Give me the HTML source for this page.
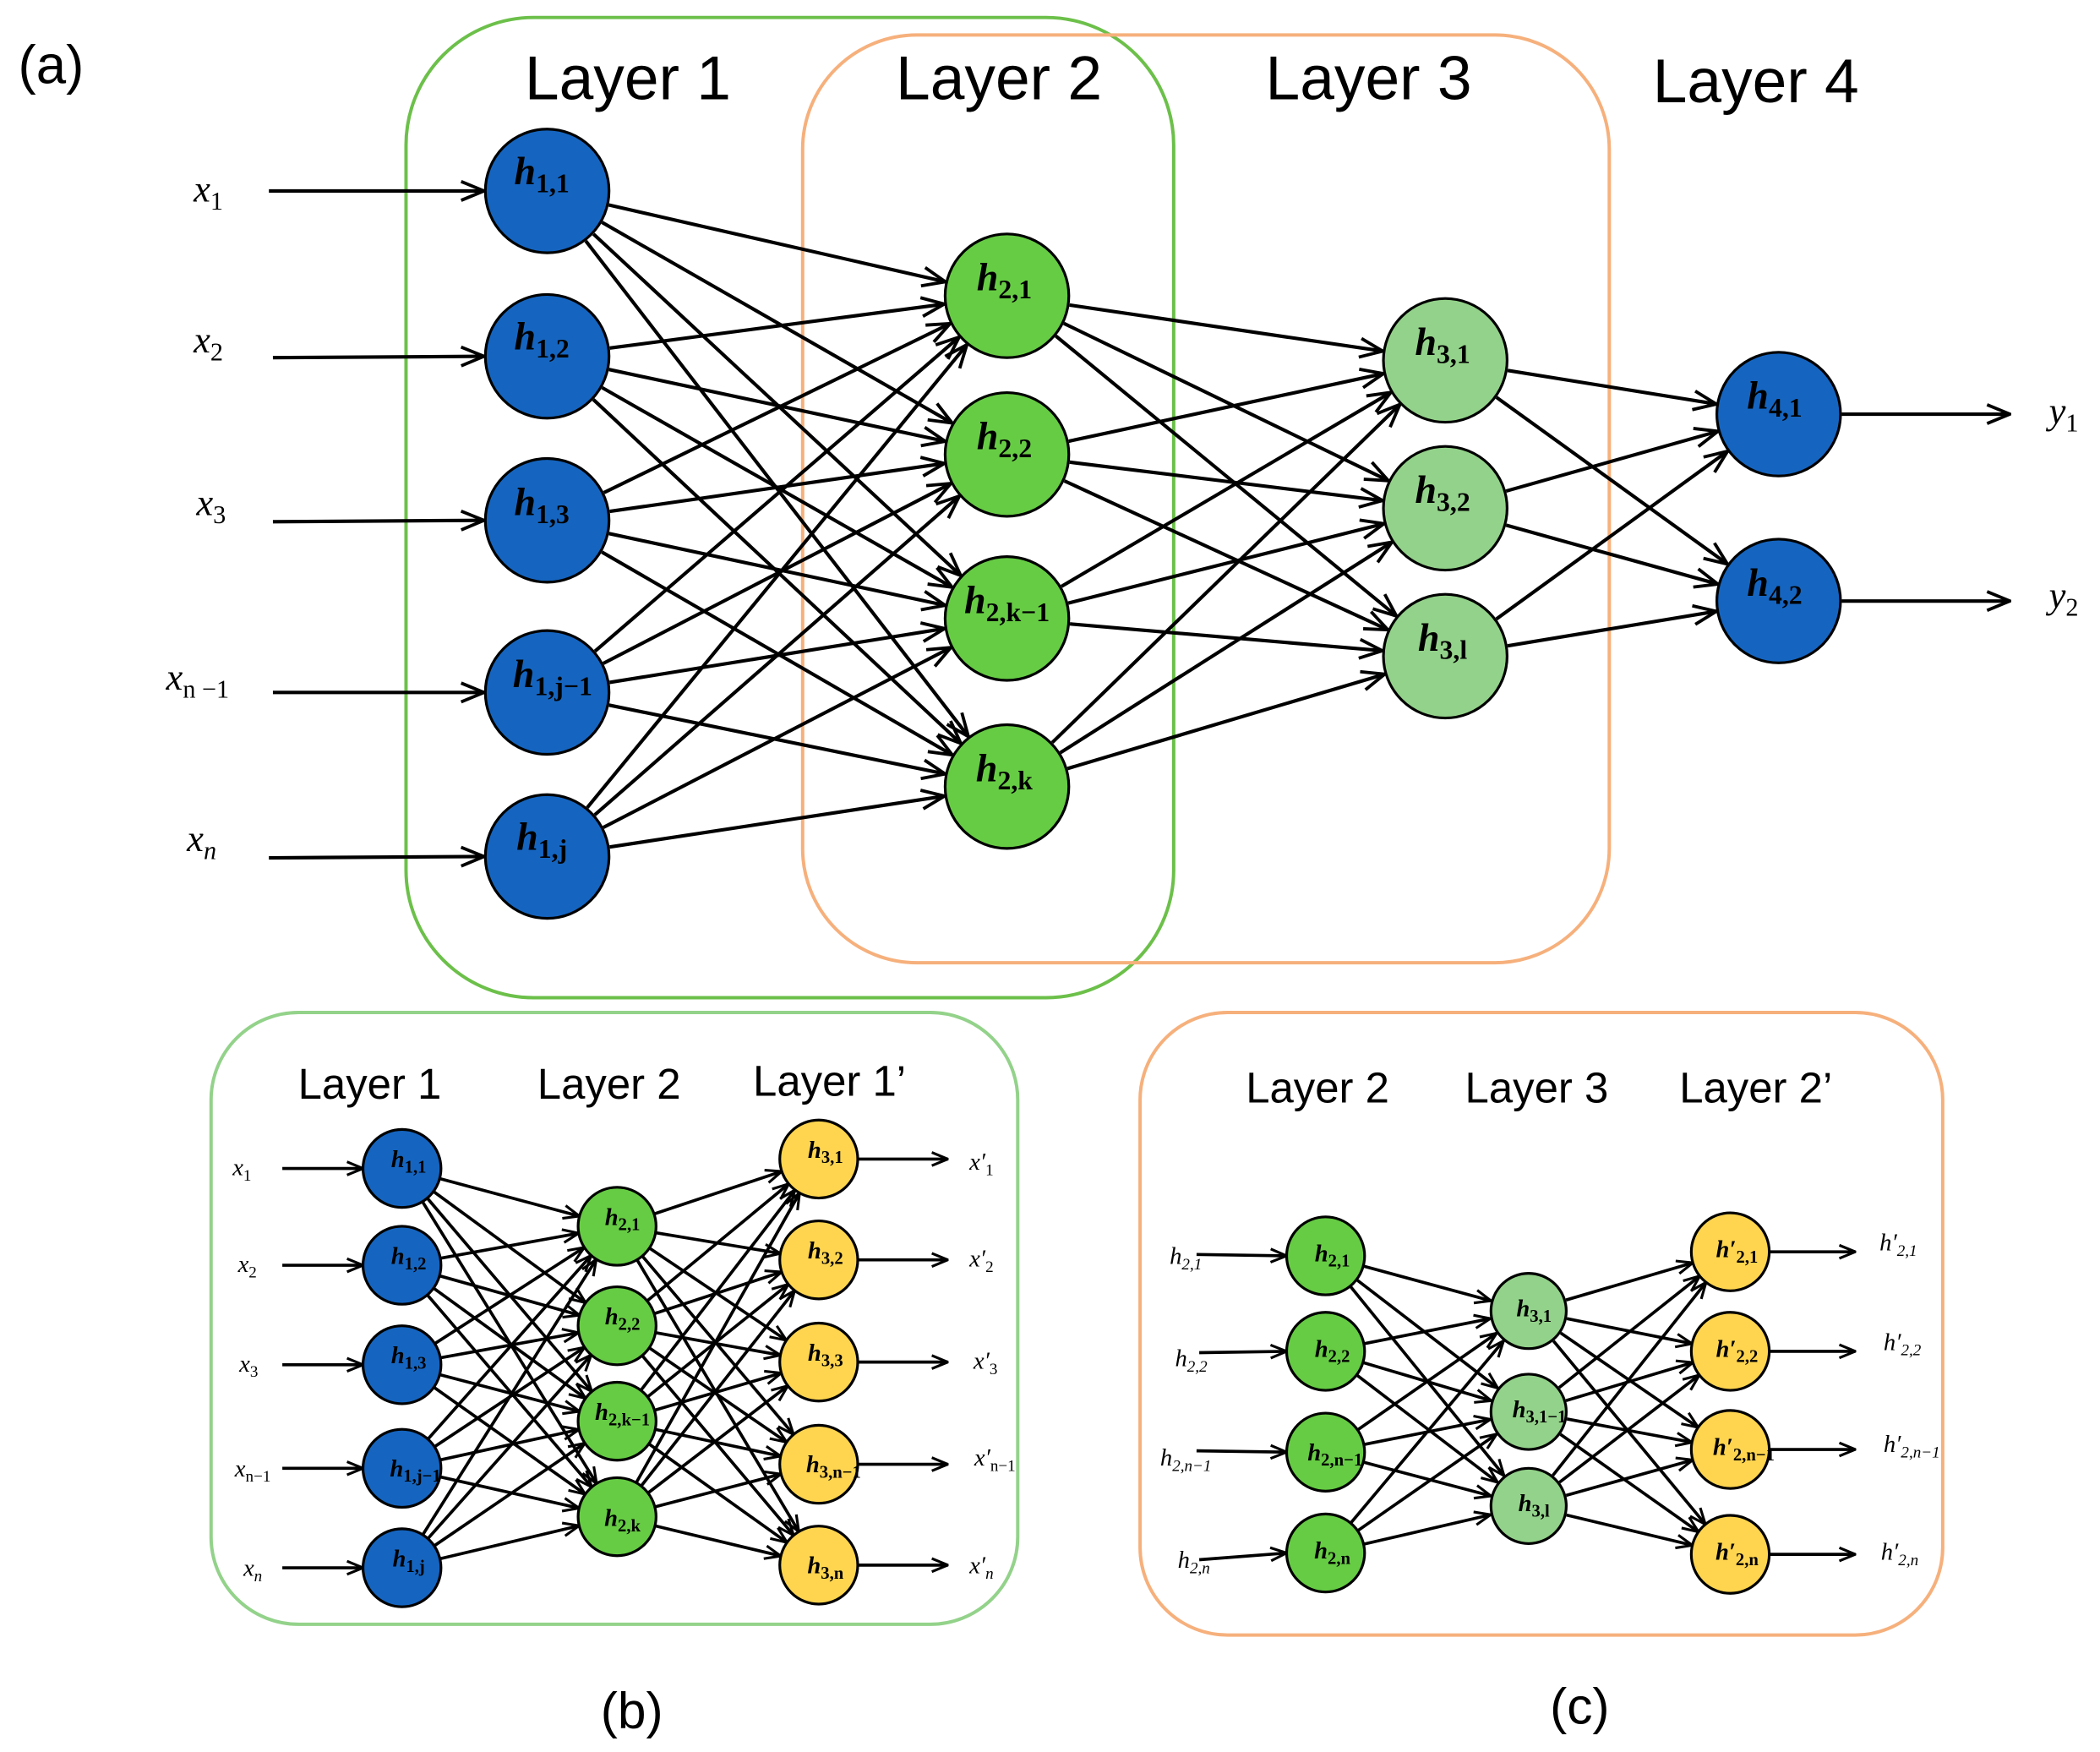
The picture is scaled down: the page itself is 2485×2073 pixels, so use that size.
<!DOCTYPE html>
<html><head><meta charset="utf-8">
<style>
html,body{margin:0;padding:0;background:#fff;}
svg{display:block;}
.lay{font-family:"Liberation Sans",sans-serif;fill:#000;text-anchor:middle;}
.m{font-family:"Liberation Serif","DejaVu Serif",serif;font-style:italic;font-weight:bold;fill:#000;text-anchor:middle;}
.m tspan{font-style:normal;font-weight:600;}
.x{font-family:"Liberation Serif","DejaVu Serif",serif;font-style:italic;fill:#000;text-anchor:middle;}
</style></head>
<body>
<svg id="s" width="2485" height="2073" viewBox="0 0 1562 1303" preserveAspectRatio="none" xmlns="http://www.w3.org/2000/svg">
<defs>
<marker id="ar" viewBox="0 0 20 20" refX="19" refY="10" markerWidth="20" markerHeight="20" markerUnits="userSpaceOnUse" orient="auto">
<polyline points="2,3 19,10 2,17" fill="none" stroke="#000" stroke-width="2.4"/>
</marker>
<marker id="ars" viewBox="0 0 20 20" refX="19" refY="10" markerWidth="14" markerHeight="14" markerUnits="userSpaceOnUse" orient="auto">
<polyline points="2,3 19,10 2,17" fill="none" stroke="#000" stroke-width="2.8"/>
</marker>
</defs>
<rect x="302" y="13" width="571" height="729" rx="95" fill="none" stroke="#6cc04a" stroke-width="2.5"/>
<rect x="597" y="26" width="600" height="690" rx="85" fill="none" stroke="#f6b07c" stroke-width="2.5"/>
<rect x="157" y="753" width="600" height="455" rx="65" fill="none" stroke="#93d28a" stroke-width="2.5"/>
<rect x="848" y="753" width="597" height="463" rx="65" fill="none" stroke="#f6b07c" stroke-width="2.5"/>
<g id="edges"></g>
<g id="nodes"></g>
<text x="38" y="62" class="lay" font-size="40">(a)</text>
<text x="467" y="74" class="lay" font-size="46">Layer 1</text>
<text x="743" y="74" class="lay" font-size="46">Layer 2</text>
<text x="1018" y="74" class="lay" font-size="46">Layer 3</text>
<text x="1306" y="76" class="lay" font-size="46">Layer 4</text>
<text x="275" y="817" class="lay" font-size="32">Layer 1</text>
<text x="453" y="817" class="lay" font-size="32">Layer 2</text>
<text x="617" y="815" class="lay" font-size="32">Layer 1’</text>
<text x="980" y="820" class="lay" font-size="32">Layer 2</text>
<text x="1143" y="820" class="lay" font-size="32">Layer 3</text>
<text x="1306" y="820" class="lay" font-size="32">Layer 2’</text>
<text x="470" y="1285" class="lay" font-size="38">(b)</text>
<text x="1175" y="1282" class="lay" font-size="38">(c)</text>
<g class="x" font-size="28">
<text x="155" y="150">x<tspan font-size="19" dy="6" font-style="normal">1</tspan></text>
<text x="155" y="262">x<tspan font-size="19" dy="6" font-style="normal">2</tspan></text>
<text x="157" y="383">x<tspan font-size="19" dy="6" font-style="normal">3</tspan></text>
<text x="147" y="513">x<tspan font-size="19" dy="6" font-style="normal">n −1</tspan></text>
<text x="150" y="633">x<tspan font-size="19" dy="6">n</tspan></text>
<text x="1535" y="315">y<tspan font-size="19" dy="6" font-style="normal">1</tspan></text>
<text x="1535" y="452">y<tspan font-size="19" dy="6" font-style="normal">2</tspan></text>
</g>
<g class="m" font-size="29">
<text x="403" y="137">h<tspan font-size="20" dy="6">1,1</tspan></text>
<text x="403" y="260">h<tspan font-size="20" dy="6">1,2</tspan></text>
<text x="403" y="383">h<tspan font-size="20" dy="6">1,3</tspan></text>
<text x="411" y="511">h<tspan font-size="20" dy="6">1,j−1</tspan></text>
<text x="403" y="632">h<tspan font-size="20" dy="6">1,j</tspan></text>
<text x="747" y="216">h<tspan font-size="20" dy="6">2,1</tspan></text>
<text x="747" y="334">h<tspan font-size="20" dy="6">2,2</tspan></text>
<text x="749" y="456">h<tspan font-size="20" dy="6">2,k−1</tspan></text>
<text x="747" y="581">h<tspan font-size="20" dy="6">2,k</tspan></text>
<text x="1073" y="264">h<tspan font-size="20" dy="6">3,1</tspan></text>
<text x="1073" y="374">h<tspan font-size="20" dy="6">3,2</tspan></text>
<text x="1073" y="484">h<tspan font-size="20" dy="6">3,l</tspan></text>
<text x="1320" y="304">h<tspan font-size="20" dy="6">4,1</tspan></text>
<text x="1320" y="443">h<tspan font-size="20" dy="6">4,2</tspan></text>
</g>
<g class="x" font-size="18">
<text x="180" y="874">x<tspan font-size="12" dy="4" font-style="normal">1</tspan></text>
<text x="184" y="946">x<tspan font-size="12" dy="4" font-style="normal">2</tspan></text>
<text x="185" y="1020">x<tspan font-size="12" dy="4" font-style="normal">3</tspan></text>
<text x="188" y="1098">x<tspan font-size="12" dy="4" font-style="normal">n−1</tspan></text>
<text x="188" y="1172">x<tspan font-size="12" dy="4">n</tspan></text>
<text x="730" y="870">x′<tspan font-size="12" dy="4" font-style="normal">1</tspan></text>
<text x="730" y="942">x′<tspan font-size="12" dy="4" font-style="normal">2</tspan></text>
<text x="733" y="1018">x′<tspan font-size="12" dy="4" font-style="normal">3</tspan></text>
<text x="740" y="1090">x′<tspan font-size="12" dy="4" font-style="normal">n−1</tspan></text>
<text x="730" y="1170">x′<tspan font-size="12" dy="4">n</tspan></text>
</g>
<g class="m" font-size="18">
<text x="304" y="868">h<tspan font-size="13" dy="4">1,1</tspan></text>
<text x="304" y="940">h<tspan font-size="13" dy="4">1,2</tspan></text>
<text x="304" y="1014">h<tspan font-size="13" dy="4">1,3</tspan></text>
<text x="309" y="1098">h<tspan font-size="13" dy="4">1,j−1</tspan></text>
<text x="304" y="1165">h<tspan font-size="13" dy="4">1,j</tspan></text>
<text x="463" y="911">h<tspan font-size="13" dy="4">2,1</tspan></text>
<text x="463" y="985">h<tspan font-size="13" dy="4">2,2</tspan></text>
<text x="463" y="1056">h<tspan font-size="13" dy="4">2,k−1</tspan></text>
<text x="463" y="1135">h<tspan font-size="13" dy="4">2,k</tspan></text>
<text x="614" y="861">h<tspan font-size="13" dy="4">3,1</tspan></text>
<text x="614" y="936">h<tspan font-size="13" dy="4">3,2</tspan></text>
<text x="614" y="1012">h<tspan font-size="13" dy="4">3,3</tspan></text>
<text x="620" y="1095">h<tspan font-size="13" dy="4">3,n−1</tspan></text>
<text x="614" y="1170">h<tspan font-size="13" dy="4">3,n</tspan></text>
</g>
<g class="x" font-size="18">
<text x="882" y="940">h<tspan font-size="12" dy="4">2,1</tspan></text>
<text x="886" y="1016">h<tspan font-size="12" dy="4">2,2</tspan></text>
<text x="882" y="1090">h<tspan font-size="12" dy="4">2,n−1</tspan></text>
<text x="888" y="1166">h<tspan font-size="12" dy="4">2,n</tspan></text>
<text x="1412" y="930">h′<tspan font-size="12" dy="4">2,1</tspan></text>
<text x="1415" y="1004">h′<tspan font-size="12" dy="4">2,2</tspan></text>
<text x="1422" y="1080">h′<tspan font-size="12" dy="4">2,n−1</tspan></text>
<text x="1413" y="1160">h′<tspan font-size="12" dy="4">2,n</tspan></text>
</g>
<g class="m" font-size="18">
<text x="991" y="938">h<tspan font-size="13" dy="4">2,1</tspan></text>
<text x="991" y="1009">h<tspan font-size="13" dy="4">2,2</tspan></text>
<text x="993" y="1086">h<tspan font-size="13" dy="4">2,n−1</tspan></text>
<text x="991" y="1159">h<tspan font-size="13" dy="4">2,n</tspan></text>
<text x="1141" y="979">h<tspan font-size="13" dy="4">3,1</tspan></text>
<text x="1145" y="1054">h<tspan font-size="13" dy="4">3,1−1</tspan></text>
<text x="1141" y="1124">h<tspan font-size="13" dy="4">3,l</tspan></text>
<text x="1292" y="935">h′<tspan font-size="13" dy="4">2,1</tspan></text>
<text x="1292" y="1009">h′<tspan font-size="13" dy="4">2,2</tspan></text>
<text x="1297" y="1082">h′<tspan font-size="13" dy="4">2,n−1</tspan></text>
<text x="1292" y="1160">h′<tspan font-size="13" dy="4">2,n</tspan></text>
</g>
<script>
(function(){
var NS="http://www.w3.org/2000/svg",E=document.getElementById("edges"),N=document.getElementById("nodes");
function line(x1,y1,x2,y2,m,w){var l=document.createElementNS(NS,"line");l.setAttribute("x1",x1);l.setAttribute("y1",y1);l.setAttribute("x2",x2);l.setAttribute("y2",y2);l.setAttribute("stroke","#000");l.setAttribute("stroke-width",w);l.setAttribute("marker-end","url(#"+m+")");E.appendChild(l);}
function circ(x,y,r,f){var c=document.createElementNS(NS,"circle");c.setAttribute("cx",x);c.setAttribute("cy",y);c.setAttribute("r",r);c.setAttribute("fill",f);c.setAttribute("stroke","#000");c.setAttribute("stroke-width","2");N.appendChild(c);}
function conn(A,B,r,m,w){A.forEach(function(a){B.forEach(function(b){var dx=b[0]-a[0],dy=b[1]-a[1],d=Math.hypot(dx,dy);line(a[0]+dx/d*r,a[1]+dy/d*r,b[0]-dx/d*r,b[1]-dy/d*r,m,w);});});}
function col(x,ys){return ys.map(function(y){return [x,y];});}
var L1=col(407,[142,265,387,515,637]),L2=col(749,[220,338,460,585]),L3=col(1075,[268,378,488]),L4=col(1323,[308,447]);
conn(L1,L2,47,"ar",2.6);conn(L2,L3,47,"ar",2.6);conn(L3,L4,47,"ar",2.6);
[[200,142],[203,266],[203,388],[203,515],[200,638]].forEach(function(p,i){line(p[0],p[1],L1[i][0]-47,L1[i][1],"ar",2.6);});
L4.forEach(function(p){line(p[0]+47,p[1],1495,p[1],"ar",2.6);});
L1.forEach(function(p){circ(p[0],p[1],46,"#1565c0");});
L2.forEach(function(p){circ(p[0],p[1],46,"#66cc44");});
L3.forEach(function(p){circ(p[0],p[1],46,"#93d28a");});
L4.forEach(function(p){circ(p[0],p[1],46,"#1565c0");});
var B1=col(299,[869,941,1015,1092,1166]),B2=col(459,[912,986,1057,1128]),B3=col(609,[862,937,1013,1089,1164]);
conn(B1,B2,29,"ars",2.3);conn(B2,B3,29,"ars",2.3);
B1.forEach(function(p){line(210,p[1],p[0]-29,p[1],"ars",2.3);});
B3.forEach(function(p){line(p[0]+29,p[1],705,p[1],"ars",2.3);});
B1.forEach(function(p){circ(p[0],p[1],29,"#1565c0");});
B2.forEach(function(p){circ(p[0],p[1],29,"#66cc44");});
B3.forEach(function(p){circ(p[0],p[1],29,"#ffd54f");});
var C1=col(986,[934,1005,1080,1155]),C2=col(1137,[975,1050,1120]),C3=col(1287,[931,1005,1078,1156]);
conn(C1,C2,29,"ars",2.3);conn(C2,C3,29,"ars",2.3);
[[890,933],[892,1006],[890,1079],[892,1160]].forEach(function(p,i){line(p[0],p[1],C1[i][0]-29,C1[i][1],"ars",2.3);});
C3.forEach(function(p){line(p[0]+29,p[1],1380,p[1],"ars",2.3);});
C1.forEach(function(p){circ(p[0],p[1],29,"#66cc44");});
C2.forEach(function(p){circ(p[0],p[1],28,"#93d28a");});
C3.forEach(function(p){circ(p[0],p[1],29,"#ffd54f");});
})();
</script>
</svg>
</body></html>
